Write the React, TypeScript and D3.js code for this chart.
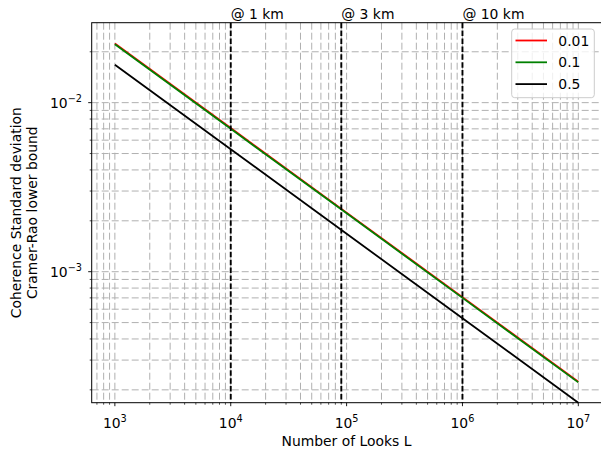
import React from 'react';
import * as d3 from 'd3';

const looks = [1e3, 1e4, 1e5, 1e6, 1e7];
const std001 = [0.02236, 0.007071, 0.002236, 0.0007071, 0.0002236];
const std01 = [0.02214, 0.0070, 0.002214, 0.00070, 0.0002214];
const std05 = [0.01677, 0.005303, 0.001677, 0.0005303, 0.0001677];
const seriesNames = ['0.01', '0.1', '0.5'];
const seriesColors = ['#ff0000', '#008000', '#000000'];

const markLooks = [1e4, 9e4, 1e6];
const markLabels = ['@ 1 km', '@ 3 km', '@ 10 km'];

const xMajor = [3, 4, 5, 6, 7];
const yMajor = [-2, -3];

const W = 601;
const H = 453;
const left = 91.7, right = 601.5, top = 22.7, bottom = 402.7;
const font = 'DejaVu Sans, sans-serif';
const fs = 13.9;

const xScale = d3.scaleLog().domain([10 ** 2.8, 10 ** 7.2]).range([left, right]);
const yScale = d3.scaleLog().domain([10 ** -3.775, 10 ** -1.527]).range([bottom, top]);

const inX = (v: number) => v >= xScale.domain()[0] && v <= xScale.domain()[1];
const inY = (v: number) => v >= yScale.domain()[0] && v <= yScale.domain()[1];
const isMajor = (v: number) => Math.abs(Math.log10(v) - Math.round(Math.log10(v))) < 1e-9;

const xTicks = xScale.ticks().filter(inX);
const yTicks = yScale.ticks().filter(inY);

const line = d3.line<[number, number]>()
  .x(d => xScale(d[0]))
  .y(d => yScale(d[1]));

const allSeries = [std001, std01, std05];

export default function App() {
  return (
    <svg width={W} height={H} style={{ position: 'absolute', left: 0, top: 0 }} fontFamily={font}>
      <rect width={W} height={H} fill="#fff" />
      {/* grid */}
      <g stroke="#b0b0b0" strokeWidth={1} strokeDasharray="7,3">
        {xTicks.map((t, i) => (
          <line key={'gx' + i} x1={xScale(t)} x2={xScale(t)} y1={top} y2={bottom} />
        ))}
        {yTicks.map((t, i) => (
          <line key={'gy' + i} x1={left} x2={right} y1={yScale(t)} y2={yScale(t)} />
        ))}
      </g>
      {/* data */}
      {allSeries.map((s, i) => (
        <path key={'s' + i} d={line(looks.map((l, j) => [l, s[j]] as [number, number])) || ''}
          fill="none" stroke={seriesColors[i]} strokeWidth={1.8} />
      ))}
      {/* markers */}
      {markLooks.map((m, i) => (
        <g key={'m' + i}>
          <line x1={xScale(m)} x2={xScale(m)} y1={top} y2={bottom} stroke="#000" strokeWidth={1.9} strokeDasharray="5.5,2.4" />
          <text x={xScale(m)} y={18.5} fontSize={fs} fill="#000">{markLabels[i]}</text>
        </g>
      ))}
      {/* spines */}
      <rect x={left} y={top} width={right - left} height={bottom - top} fill="none" stroke="#000" strokeWidth={1} />
      {/* x ticks */}
      {xTicks.map((t, i) => (
        <line key={'tx' + i} x1={xScale(t)} x2={xScale(t)} y1={bottom} y2={bottom + (isMajor(t) ? 3.5 : 2)} stroke="#000" strokeWidth={isMajor(t) ? 0.9 : 0.7} />
      ))}
      {xMajor.map(p => (
        <text key={'lx' + p} x={xScale(10 ** p)} y={bottom + 25} fontSize={fs} textAnchor="middle" fill="#000">
          10<tspan fontSize={fs * 0.7} dy={-6}>{p}</tspan>
        </text>
      ))}
      {/* y ticks */}
      {yTicks.map((t, i) => (
        <line key={'ty' + i} x1={left} x2={left - (isMajor(t) ? 3.5 : 2)} y1={yScale(t)} y2={yScale(t)} stroke="#000" strokeWidth={isMajor(t) ? 0.9 : 0.7} />
      ))}
      {yMajor.map(p => (
        <text key={'ly' + p} x={82} y={yScale(10 ** p) + 5} fontSize={fs} textAnchor="end" fill="#000">
          10<tspan fontSize={fs * 0.7} dy={-6}>{'\u2212' + Math.abs(p)}</tspan>
        </text>
      ))}
      {/* axis labels */}
      <text x={346.5} y={446} fontSize={fs} textAnchor="middle" fill="#000">Number of Looks L</text>
      <g transform={`translate(0, ${(top + bottom) / 2}) rotate(-90)`}>
        <text x={0} y={21} fontSize={fs} textAnchor="middle" fill="#000">Coherence Standard deviation</text>
        <text x={0} y={36.5} fontSize={fs} textAnchor="middle" fill="#000">Cramer-Rao lower bound</text>
      </g>
      {/* legend */}
      <rect x={511.7} y={29} width={82.6} height={68.7} rx={3} fill="#fff" fillOpacity={0.8} stroke="#cccccc" strokeWidth={1} />
      {seriesNames.map((n, i) => (
        <g key={'lg' + i}>
          <line x1={515.5} x2={547} y1={40.5 + i * 21.8} y2={40.5 + i * 21.8} stroke={seriesColors[i]} strokeWidth={1.8} />
          <text x={558.3} y={40.5 + i * 21.8 + 5} fontSize={fs} fill="#000">{n}</text>
        </g>
      ))}
    </svg>
  );
}
